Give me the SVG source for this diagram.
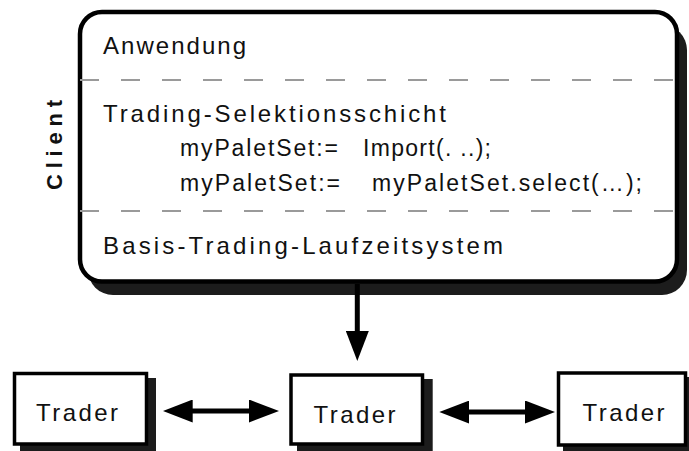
<svg xmlns="http://www.w3.org/2000/svg" width="689" height="451" viewBox="0 0 689 451">
  <style>
    .shadow { fill: #1c1c1c; }
    .box { fill: #ffffff; stroke: #000000; }
    .sep { stroke: #9a9a9a; stroke-width: 2; stroke-dasharray: 19 22; fill: none; }
    .lbl { font-family: "Liberation Sans", Arial, Helvetica, sans-serif; font-size: 24px; fill: #111111; }
    .code { font-family: "Liberation Sans", Arial, Helvetica, sans-serif; font-size: 23px; fill: #111111; }
    .tr { font-family: "Liberation Sans", Arial, Helvetica, sans-serif; font-size: 24px; fill: #111111; }
    .side { font-family: "Liberation Sans", Arial, Helvetica, sans-serif; font-size: 22px; font-weight: bold; fill: #111111; }
    .conn { stroke: #000000; stroke-width: 5; fill: none; }
  </style>
  <defs>
    <marker id="head" markerUnits="userSpaceOnUse" markerWidth="30" markerHeight="23" refX="1" refY="11.5" orient="auto-start-reverse" viewBox="0 0 30 23">
      <path d="M0,0 L30,11.5 L0,23 Z" fill="#000000"/>
    </marker>
  </defs>
  <rect width="689" height="451" fill="#ffffff"/>

  <g id="client">
    <rect class="shadow" x="88" y="25" width="599" height="270" rx="25" ry="25"/>
    <rect class="box" x="80" y="12" width="597" height="269.5" rx="22" ry="22" stroke-width="4.5"/>
    <line class="sep" x1="80" y1="80" x2="676" y2="80"/>
    <line class="sep" x1="80" y1="211" x2="676" y2="211"/>
    <text class="side" x="62" y="145" text-anchor="middle" transform="rotate(-90 62 145)" textLength="90" lengthAdjust="spacing">Client</text>
    <text class="lbl" x="103" y="54" textLength="143" lengthAdjust="spacing">Anwendung</text>
    <text class="lbl" x="103" y="122" textLength="343" lengthAdjust="spacing">Trading-Selektionsschicht</text>
    <text class="code" x="180" y="156" textLength="158" lengthAdjust="spacing">myPaletSet:=</text>
    <text class="code" x="363" y="156" textLength="128" lengthAdjust="spacing">Import(. ..);</text>
    <text class="code" x="180" y="191" textLength="160" lengthAdjust="spacing">myPaletSet:=</text>
    <text class="code" x="372" y="191" textLength="270" lengthAdjust="spacing">myPaletSet.select(…);</text>
    <text class="lbl" x="103" y="254" textLength="400" lengthAdjust="spacing">Basis-Trading-Laufzeitsystem</text>
  </g>

  <g id="trader-left">
    <rect class="shadow" x="20" y="378" width="136" height="73"/>
    <rect class="box" x="14.5" y="373.5" width="132" height="70.5" stroke-width="3.5"/>
    <text class="tr" x="36" y="420.5" textLength="82" lengthAdjust="spacing">Trader</text>
  </g>

  <g id="trader-middle">
    <rect class="shadow" x="297" y="379" width="135.7" height="72"/>
    <rect class="box" x="291" y="375" width="131.5" height="69" stroke-width="3.5"/>
    <text class="tr" x="313.5" y="422.5" textLength="82" lengthAdjust="spacing">Trader</text>
  </g>

  <g id="trader-right">
    <rect class="shadow" x="563" y="377" width="130" height="76"/>
    <rect class="box" x="558.5" y="373" width="127" height="72" stroke-width="3.5"/>
    <text class="tr" x="582.5" y="420.5" textLength="82" lengthAdjust="spacing">Trader</text>
  </g>

  <g id="connectors">
    <line class="conn" x1="357.3" y1="284" x2="357.3" y2="332" marker-end="url(#head)"/>
    <line class="conn" x1="191.7" y1="411" x2="250" y2="411" marker-start="url(#head)" marker-end="url(#head)"/>
    <line class="conn" x1="468.3" y1="412" x2="526" y2="412" marker-start="url(#head)" marker-end="url(#head)"/>
  </g>
</svg>
